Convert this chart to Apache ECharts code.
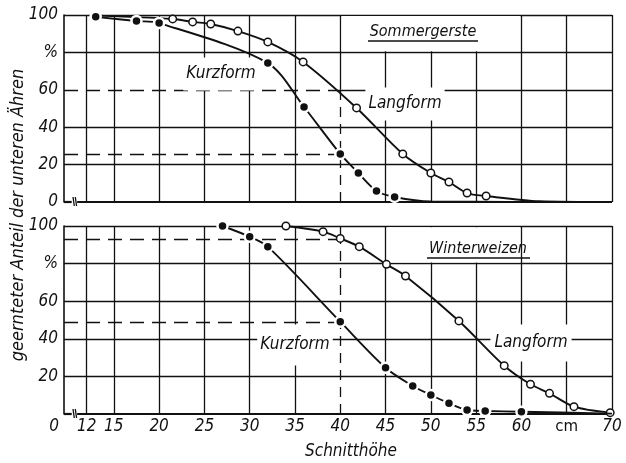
<!DOCTYPE html>
<html>
<head>
<meta charset="utf-8">
<script src="https://cdn.jsdelivr.net/npm/echarts@6/dist/echarts.min.js"></script>
<style>
  html, body { margin: 0; background: #fff; }
  #chart { width: 626px; height: 463px; }
</style>
</head>
<body>
<div id="chart"></div>
<script>
// axis ticks
const xTicks = [12, 15, 20, 25, 30, 35, 40, 45, 50, 55, 60, 65, 70];
const xTickLabels = ['12', '15', '20', '25', '30', '35', '40', '45', '50', '55', '60', 'cm', '70'];
const yTicks = [0, 20, 40, 60, 80, 100];
const yLabelsTop = ['0', '20', '40', '60', '%', '100'];
const yLabelsBottom = ['', '20', '40', '60', '%', '100'];

// read-off lines at 40 cm
const refX = 40;
const sommerRef = [60, 25.7];
const winterRef = [93, 49];

// Sommergerste
const sommerKurz = [[13, 99], [17.5, 96.8], [20, 95.7], [32, 74.3], [36, 50.8], [40, 25.7], [42, 15.5], [44, 5.9], [46, 2.7]];
const sommerKurzTail = [[50, 0.3], [70, 0]];
const sommerLangStart = [[12.5, 99.8]];
const sommerLang = [[21.5, 97.9], [23.7, 96.3], [25.7, 95.2], [28.7, 91.4], [32, 85.6], [35.9, 74.9], [41.8, 50.3], [46.9, 25.7], [50, 15.5], [52, 10.7], [54, 4.8], [56.1, 3.2]];
const sommerLangTail = [[62, 0.4], [70, 0]];

// Winterweizen
const winterKurz = [[27, 100], [30, 94.3], [32, 89], [40, 49.1], [45, 24.6], [48, 14.9], [50, 10.1], [52, 5.7], [54, 2.1], [56, 1.6], [60, 1.2]];
const winterKurzTail = [[70, 0.2]];
const winterLang = [[34, 100], [38.1, 97], [40, 93.4], [42.1, 89], [45.1, 79.6], [47.2, 73.4], [53.1, 49.5], [58.1, 25.7], [61, 15.8], [63.1, 11], [65.8, 3.9], [69.8, 0.7]];

const ink = '#111';
const numFont = '"Liberation Sans Narrow", "DejaVu Sans Condensed", sans-serif';
const textFont = '"DejaVu Sans Condensed", "DejaVu Sans", sans-serif';
const xMin = 9.5, xMax = 70;

const xLabelMap = {};
xTicks.forEach((v, i) => { xLabelMap[v] = xTickLabels[i]; });

const chart = echarts.init(document.getElementById('chart'));

function gridLines(ref) {
    const top = Math.max(...ref);
    const lines = [];
    yTicks.filter(v => v > 0).forEach(v => {
        if (ref.includes(v)) lines.push([{ coord: [refX, v] }, { coord: [xMax, v] }]);
        else lines.push({ yAxis: v });
    });
    xTicks.forEach(v => {
        if (v === refX) lines.push([{ coord: [v, top] }, { coord: [v, 100] }]);
        else lines.push({ xAxis: v });
    });
    return lines;
}

function refLines(ref) {
    return ref.map(y => [{ coord: [xMin, y] }, { coord: [refX, y] }]);
}

function curve(points, lead, tail) {
    return [
        ...lead.map(p => ({ value: p, symbol: 'none' })),
        ...points,
        ...tail.map(p => ({ value: p, symbol: 'none' }))
    ];
}

function panel(i, ref, cell, kurz, lang) {
    const base = { type: 'line', xAxisIndex: i, yAxisIndex: i, silent: true, data: [] };
    return [
        Object.assign({}, base, {
            markLine: {
                z: 1, silent: true, symbol: ['none', 'none'], label: { show: false },
                lineStyle: { color: ink, width: 1.3, type: 'solid' },
                data: gridLines(ref)
            }
        }),
        Object.assign({}, base, {
            markLine: {
                z: 2, silent: true, symbol: ['none', 'none'], label: { show: false },
                lineStyle: { color: ink, width: 2.2, type: 'solid' },
                data: [
                    [{ coord: [xMin, 0] }, { coord: [10.35, 0] }],
                    [{ coord: [10.95, 0] }, { coord: [xMax, 0] }]
                ]
            }
        }),
        Object.assign({}, base, {
            markArea: {
                z: 3, silent: true, itemStyle: { color: '#fff' },
                data: [[{ coord: cell[0] }, { coord: cell[1] }]]
            }
        }),
        Object.assign({}, base, {
            markLine: {
                z: 2, silent: true, symbol: ['none', 'none'], label: { show: false },
                lineStyle: { color: ink, width: 1.3, type: [14, 8] },
                data: refLines(ref)
            }
        }),
        Object.assign({}, base, {
            markLine: {
                z: 2, silent: true, symbol: ['none', 'none'], label: { show: false },
                lineStyle: { color: ink, width: 1.3, type: [10, 7] },
                data: [[{ coord: [refX, 0] }, { coord: [refX, Math.max(...ref)] }]]
            }
        }),
        {
            name: 'Langform', type: 'line', xAxisIndex: i, yAxisIndex: i, z: 6,
            data: lang, smooth: 0.3, symbol: 'circle', symbolSize: 7.5,
            lineStyle: { color: ink, width: 1.9 },
            itemStyle: { color: '#fff', borderColor: ink, borderWidth: 1.5 }
        },
        {
            name: 'Kurzform', type: 'line', xAxisIndex: i, yAxisIndex: i, z: 7,
            data: kurz, smooth: 0.3, symbol: 'circle', symbolSize: 10,
            lineStyle: { color: ink, width: 1.9 },
            itemStyle: { color: ink, borderColor: '#fff', borderWidth: 2.5 }
        }
    ];
}

function xAxis(i, showLabels) {
    return {
        type: 'value', gridIndex: i, min: xMin, max: xMax, interval: 0.5,
        axisLine: { show: false }, axisTick: { show: false }, splitLine: { show: false },
        axisLabel: {
            show: showLabels, margin: 4, color: ink,
            fontFamily: numFont, fontStyle: 'italic', fontSize: 17,
            formatter: v => {
                if (Math.abs(v - xMin) < 1e-6) return '{z|0}';
                const t = xLabelMap[v];
                if (t === undefined) return '';
                return t === 'cm' ? '{cm|cm}' : t;
            },
            rich: {
                z: { fontFamily: numFont, fontStyle: 'italic', fontSize: 17, color: ink, padding: [0, 20, 0, 0] },
                cm: { fontFamily: 'DejaVu Sans', fontStyle: 'normal', fontSize: 15, color: ink, padding: [2, 0, 0, 0] }
            }
        }
    };
}

function yAxis(i, labels) {
    return {
        type: 'value', gridIndex: i, min: 0, max: 100, interval: 20,
        axisLine: { show: true, onZero: false, lineStyle: { color: ink, width: 1.6 } },
        axisTick: { show: false }, splitLine: { show: false },
        axisLabel: {
            margin: 6, color: ink, fontFamily: numFont, fontStyle: 'italic', fontSize: 17,
            formatter: v => labels[yTicks.indexOf(v)] || ''
        }
    };
}

const option = {
    backgroundColor: '#fff',
    animation: false,
    grid: [
        { left: 64, top: 15, width: 548, height: 187 },
        { left: 64, top: 226, width: 548, height: 188 }
    ],
    xAxis: [xAxis(0, false), xAxis(1, true)],
    yAxis: [yAxis(0, yLabelsTop), yAxis(1, yLabelsBottom)],
    series: [
        ...panel(0, sommerRef, [[40.15, 80.6], [59.85, 99.4]],
            curve(sommerKurz, [], sommerKurzTail),
            curve(sommerLang, sommerLangStart, sommerLangTail)),
        ...panel(1, winterRef, [[45.15, 80.6], [59.85, 99.4]],
            curve(winterKurz, [], winterKurzTail),
            curve(winterLang, [], []))
    ]
};
chart.setOption(option);

// texts and axis break marks
function label(text, x, y, pad, size) {
    return {
        type: 'text', x: x, y: y, z: 5,
        style: {
            text: text, fill: ink, font: 'italic ' + (size || 17) + 'px ' + textFont,
            textAlign: 'center', textVerticalAlign: 'middle',
            backgroundColor: pad ? '#fff' : null, padding: pad || 0
        }
    };
}
function underline(x1, x2, y) {
    return { type: 'line', z: 5, shape: { x1: x1, y1: y, x2: x2, y2: y }, style: { stroke: ink, lineWidth: 1.3 } };
}

const graphic = [
    label('Sommergerste', 423, 32, null, 16),
    underline(368, 478, 41),
    label('Winterweizen', 478, 249, null, 16),
    underline(427, 530, 258),
    label('Kurzform', 221, 74, [8, 3]),
    label('Langform', 405, 104, [8, 3]),
    label('Kurzform', 295, 345, [12, 3]),
    label('Langform', 531, 343, [10, 4]),
    label('Schnitthöhe', 351, 452),
    {
        type: 'text', x: 18, y: 215, rotation: Math.PI / 2, z: 5,
        style: {
            text: 'geernteter Anteil der unteren Ähren', fill: ink,
            font: 'italic 18px ' + textFont, textAlign: 'center', textVerticalAlign: 'middle'
        }
    }
];

[0, 1].forEach(i => {
    [10.55, 10.8].forEach(v => {
        const p = chart.convertToPixel({ gridIndex: i }, [v, 0]);
        graphic.push({
            type: 'line', z: 5,
            shape: { x1: p[0] - 0.5, y1: p[1] - 5, x2: p[0] + 0.8, y2: p[1] + 4 },
            style: { stroke: ink, lineWidth: 1.3 }
        });
    });
});

chart.setOption({ graphic: graphic });
</script>
</body>
</html>
